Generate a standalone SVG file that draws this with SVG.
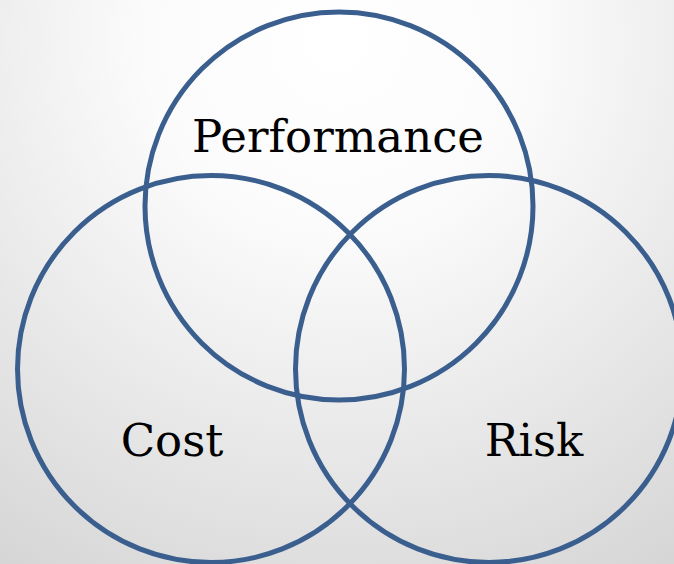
<svg xmlns="http://www.w3.org/2000/svg" width="674" height="564" viewBox="0 0 674 564">
  <defs>
    <radialGradient id="bg" gradientUnits="userSpaceOnUse" cx="337" cy="40" r="640">
      <stop offset="0" stop-color="#ffffff"/>
      <stop offset="0.3" stop-color="#fbfbfb"/>
      <stop offset="1" stop-color="#d4d4d4"/>
    </radialGradient>
  </defs>
  <style>
    .ring { fill: none; stroke: #3a5f8f; stroke-width: 5; }
    .label { font-family: "DejaVu Serif", "Liberation Serif", serif; font-size: 45px; fill: #000000; text-anchor: middle; }
  </style>
  <rect x="0" y="0" width="674" height="564" fill="url(#bg)"/>
  <g id="performance">
    <circle class="ring" cx="339" cy="206" r="194"/>
    <text class="label" x="338" y="152">Performance</text>
  </g>
  <g id="cost">
    <circle class="ring" cx="211" cy="369" r="193.5"/>
    <text class="label" x="172" y="456">Cost</text>
  </g>
  <g id="risk">
    <circle class="ring" cx="489" cy="369" r="193.5"/>
    <text class="label" x="534" y="456">Risk</text>
  </g>
  <g id="connectors"></g>
</svg>
